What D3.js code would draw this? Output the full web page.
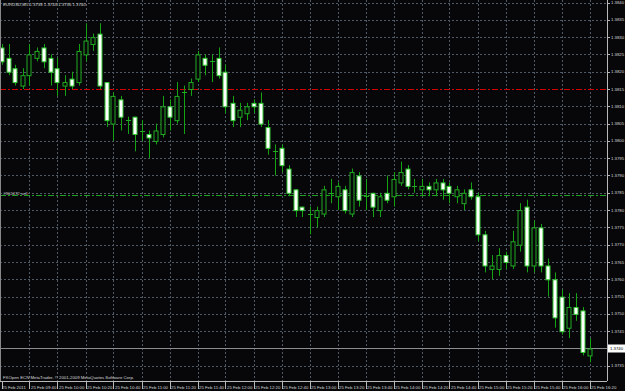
<!DOCTYPE html>
<html><head><meta charset="utf-8">
<script src="https://cdn.jsdelivr.net/npm/d3@7"></script>
<style>
html,body{margin:0;padding:0;background:#07070a;overflow:hidden}
svg{display:block}
text{font-family:"Liberation Sans",Arial,sans-serif;}
</style></head>
<body>
<svg id="c" width="625" height="391"></svg>
<script>
const symbolTitle = "EURUSD,M5  1.3738 1.3743 1.3736 1.3740";
const footerText = "FXOpen ECN MetaTrader, \u00a9 2001-2009 MetaQuotes Software Corp.";
const orderLabel = "#902472 sell";
const orderPrice = 1.37845;
const stopPrice = 1.3815;
const bidPrice = 1.3740;

const opens = [1.3827,1.3824,1.3821,1.3816,1.3819,1.3824,1.3827,1.3824,1.3821,1.3816,
1.3818,1.3817,1.3825,1.3828,1.3831,1.3817,1.3805,1.3812,1.3806,1.3807,
1.3803,1.3802,1.3800,1.3802,1.3810,1.3806,1.3814,1.3815,1.3818,1.3824,
1.3823,1.3824,1.3820,1.3811,1.3807,1.3808,1.3811,1.3811,1.3804,1.3797,
1.3798,1.3792,1.3786,1.3781,1.3779,1.3778,1.3779,1.3785,1.3784,1.3786,
1.3779,1.3790,1.3784,1.3785,1.3780,1.3785,1.3784,1.3788,1.3792,1.3787,
1.3786,1.3787,1.3786,1.3788,1.3787,1.3784,1.3782,1.3786,1.3784,1.3773,
1.3763,1.3763,1.3767,1.3764,1.3770,1.3781,1.3764,1.3775,1.3764,1.3760,
1.3755,1.3746,1.3752,1.3751,1.3738];
const highs = [1.3828,1.3828,1.3822,1.3821,1.3828,1.3827,1.3828,1.3825,1.3824,1.3819,
1.3820,1.3828,1.3834,1.3831,1.3834,1.3817,1.3814,1.3813,1.3807,1.3807,
1.3806,1.3803,1.3805,1.3813,1.3812,1.3817,1.3816,1.3818,1.3826,1.3825,
1.3825,1.3827,1.3822,1.3813,1.3811,1.3811,1.3812,1.3814,1.3806,1.3799,
1.3799,1.3793,1.3786,1.3781,1.3781,1.3781,1.3787,1.3789,1.3788,1.3787,
1.3792,1.3791,1.3789,1.3785,1.3785,1.3790,1.3791,1.3794,1.3793,1.3789,
1.3789,1.3788,1.3789,1.3789,1.3788,1.3787,1.3786,1.3788,1.3785,1.3774,
1.3767,1.3769,1.3768,1.3774,1.3782,1.3783,1.3777,1.3776,1.3766,1.3762,
1.3757,1.3756,1.3756,1.3752,1.3743];
const lows = [1.3822,1.3819,1.3816,1.3815,1.3816,1.3823,1.3821,1.3816,1.3813,1.3813,
1.3815,1.3816,1.3823,1.3826,1.3815,1.3804,1.3800,1.3803,1.3802,1.3797,
1.3800,1.3795,1.3799,1.3801,1.3803,1.3805,1.3802,1.3813,1.3817,1.3819,
1.3817,1.3818,1.3808,1.3804,1.3804,1.3806,1.3808,1.3804,1.3796,1.3790,
1.3791,1.3784,1.3778,1.3778,1.3773,1.3775,1.3778,1.3782,1.3780,1.3779,
1.3778,1.3781,1.3780,1.3778,1.3778,1.3782,1.3781,1.3787,1.3786,1.3785,
1.3784,1.3784,1.3784,1.3783,1.3782,1.3782,1.3780,1.3783,1.3771,1.3762,
1.3760,1.3761,1.3763,1.3763,1.3768,1.3762,1.3762,1.3762,1.3755,1.3746,
1.3744,1.3743,1.3748,1.3738,1.3736];
const closes = [1.3823,1.3820,1.3817,1.3819,1.3825,1.3826,1.3823,1.3820,1.3817,1.3817,
1.3816,1.3826,1.3829,1.3830,1.3816,1.3806,1.3813,1.3807,1.3806,1.3802,
1.3803,1.3801,1.3803,1.3810,1.3807,1.3813,1.3814,1.3817,1.3825,1.3822,
1.3823,1.3819,1.3810,1.3806,1.3809,1.3810,1.3810,1.3805,1.3798,1.3797,
1.3793,1.3785,1.3780,1.3780,1.3779,1.3780,1.3786,1.3785,1.3787,1.3780,
1.3791,1.3783,1.3784,1.3781,1.3784,1.3783,1.3789,1.3791,1.3787,1.3787,
1.3787,1.3786,1.3788,1.3786,1.3785,1.3786,1.3785,1.3784,1.3773,1.3764,
1.3764,1.3767,1.3765,1.3771,1.3780,1.3764,1.3775,1.3764,1.3760,1.3749,
1.3745,1.3752,1.3750,1.3739,1.3740];

const priceTicks = [1.3840,1.3835,1.3830,1.3825,1.3820,1.3815,1.3810,1.3805,1.3800,1.3795,1.3790,
1.3785,1.3780,1.3775,1.3770,1.3765,1.3760,1.3755,1.3750,1.3745,1.3735];
const timeTickBars = [0,4,8,12,16,20,24,28,32,36,40,44,48,52,56,60,64,68,72,76,80,84];
const timeTickLabels = ["25 Feb 2011","25 Feb 09:40","25 Feb 10:00","25 Feb 10:20","25 Feb 10:40","25 Feb 11:00",
"25 Feb 11:20","25 Feb 11:40","25 Feb 12:00","25 Feb 12:20","25 Feb 12:40","25 Feb 13:00","25 Feb 13:20",
"25 Feb 13:40","25 Feb 14:00","25 Feb 14:20","25 Feb 14:40","25 Feb 15:00","25 Feb 15:20","25 Feb 15:40",
"25 Feb 16:00","25 Feb 16:20"];

const W = 625, H = 391;
const plotR = 607, plotB = 381;
const svg = d3.select("#c");
svg.append("rect").attr("width",W).attr("height",H).attr("fill","#07070a");

const x = d3.scaleLinear().domain([0,84]).range([1.5, 589.5]);
const y = d3.scaleLinear().domain([1.3735, 1.3840]).range([365.8, 2.5]);
const fmt = d3.format(".4f");

svg.append("clipPath").attr("id","pc").append("rect")
  .attr("x",1).attr("y",0).attr("width",plotR-1).attr("height",plotB);

const grid = svg.append("g").attr("clip-path","url(#pc)");
const py = p => Math.round(y(p))+0.5;
// horizontal grid (skip the level covered by the stop line)
grid.selectAll("line.hg").data(priceTicks.filter(d=>Math.abs(d-stopPrice)>1e-6)).join("line")
  .attr("x1",0).attr("x2",plotR)
  .attr("y1",d=>py(d)).attr("y2",d=>py(d))
  .attr("stroke","#505a66").attr("stroke-width",1).attr("stroke-dasharray","2,2");
// vertical grid
grid.selectAll("line.vg").data(timeTickBars.slice(1)).join("line")
  .attr("x1",d=>Math.round(x(d))+0.5).attr("x2",d=>Math.round(x(d))+0.5)
  .attr("y1",0).attr("y2",plotB)
  .attr("stroke","#505a66").attr("stroke-width",1).attr("stroke-dasharray","2,2");

// stop line (red) and order line (green)
grid.append("line").attr("x1",0).attr("x2",plotR)
  .attr("y1",py(stopPrice)).attr("y2",py(stopPrice))
  .attr("stroke","#d40000").attr("stroke-width",1).attr("stroke-dasharray","6,2,2,2");
grid.append("line").attr("x1",0).attr("x2",plotR)
  .attr("y1",py(orderPrice)).attr("y2",py(orderPrice))
  .attr("stroke","#22a022").attr("stroke-dasharray","6,2,2,2");
// bid line
grid.append("line").attr("x1",0).attr("x2",plotR)
  .attr("y1",py(bidPrice)).attr("y2",py(bidPrice))
  .attr("stroke","#8a8c90").attr("stroke-width",1);

// candles
const bars = d3.range(opens.length).map(i=>({i,o:opens[i],h:highs[i],l:lows[i],c:closes[i]}));
const cg = svg.append("g").attr("clip-path","url(#pc)");
const bw = 5;
cg.selectAll("line.wick").data(bars).join("line")
  .attr("x1",d=>Math.round(x(d.i))+0.5).attr("x2",d=>Math.round(x(d.i))+0.5)
  .attr("y1",d=>y(d.h)).attr("y2",d=>y(d.l))
  .attr("stroke","#13a313").attr("stroke-width",1);
cg.selectAll("rect.body").data(bars.filter(d=>Math.abs(d.o-d.c)>1e-9)).join("rect")
  .attr("x",d=>Math.round(x(d.i))-2)
  .attr("y",d=>y(Math.max(d.o,d.c))+0.5)
  .attr("width",bw-1)
  .attr("height",d=>Math.max(1,y(Math.min(d.o,d.c))-y(Math.max(d.o,d.c))))
  .attr("fill",d=>d.c<d.o?"#ffffff":"#07070a")
  .attr("stroke",d=>d.c<d.o?"#33c833":"#22aa22").attr("stroke-width",1);
cg.selectAll("line.doji").data(bars.filter(d=>Math.abs(d.o-d.c)<=1e-9)).join("line")
  .attr("x1",d=>Math.round(x(d.i))-2).attr("x2",d=>Math.round(x(d.i))+3)
  .attr("y1",d=>py(d.c)).attr("y2",d=>py(d.c))
  .attr("stroke","#22aa22");

// frame
svg.append("line").attr("x1",plotR+0.5).attr("x2",plotR+0.5).attr("y1",0).attr("y2",plotB)
  .attr("stroke","#b8b8b8");
svg.append("line").attr("x1",0).attr("x2",plotR).attr("y1",plotB+0.5).attr("y2",plotB+0.5)
  .attr("stroke","#b8b8b8");
svg.append("line").attr("x1",0.5).attr("x2",0.5).attr("y1",0).attr("y2",plotB)
  .attr("stroke","#888");

// price axis labels
const pa = svg.append("g");
pa.selectAll("line").data(priceTicks).join("line")
  .attr("x1",plotR).attr("x2",plotR+3)
  .attr("y1",d=>py(d)).attr("y2",d=>py(d))
  .attr("stroke","#b8b8b8");
pa.selectAll("text").data(priceTicks).join("text")
  .attr("x",plotR+4).attr("y",d=>y(d)+1.5)
  .attr("font-size","4.3px").attr("fill","#d8d8d8").text(d=>fmt(d));
// bid label box
pa.append("rect").attr("x",plotR+1).attr("y",y(bidPrice)-4).attr("width",17).attr("height",8)
  .attr("fill","#ffffff");
pa.append("text").attr("x",plotR+3).attr("y",y(bidPrice)+1.6)
  .attr("font-size","4.3px").attr("fill","#000").text(fmt(bidPrice));

// time axis
const ta = svg.append("g");
ta.selectAll("line").data(timeTickBars).join("line")
  .attr("x1",d=>Math.round(x(d))+0.5).attr("x2",d=>Math.round(x(d))+0.5)
  .attr("y1",plotB).attr("y2",plotB+8).attr("stroke","#b8b8b8");
ta.selectAll("text").data(timeTickBars).join("text")
  .attr("x",(d,i)=>i===0?2:x(d)+1.5).attr("y",388.5)
  .attr("font-size","4.3px").attr("fill","#d8d8d8").text((d,i)=>timeTickLabels[i]);

// header, footer, order label
svg.append("text").attr("x",3).attr("y",6).attr("font-size","4.3px").attr("fill","#d8d8d8").text(symbolTitle);
svg.append("text").attr("x",3).attr("y",378.5).attr("font-size","4.3px").attr("fill","#d8d8d8").text(footerText);
svg.append("text").attr("x",3).attr("y",y(orderPrice)+0.5).attr("font-size","4.3px").attr("fill","#c8c8c8").text(orderLabel);
</script>
</body></html>
